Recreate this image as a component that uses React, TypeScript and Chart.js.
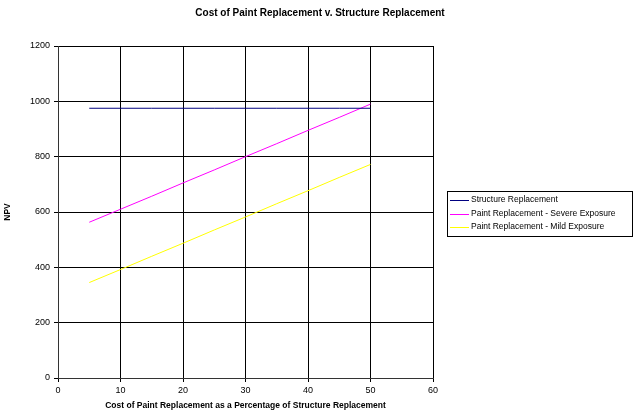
import React, { useEffect, useRef } from "react";
import { Chart, registerables } from "chart.js";

Chart.register(...registerables);

const xValues = [5, 10, 15, 20, 25, 30, 35, 40, 45, 50];
const structureValues = [975, 975, 975, 975, 975, 975, 975, 975, 975, 975];
const severeValues = [563, 610, 657, 705, 752, 800, 847, 895, 942, 990];
const mildValues = [345, 392, 440, 487, 535, 582, 630, 677, 725, 772];
const seriesNames = [
  "Structure Replacement",
  "Paint Replacement - Severe Exposure",
  "Paint Replacement - Mild Exposure",
];
const seriesColors = ["#000080", "#FF00FF", "#FFFF00"];
const chartTitle = "Cost of Paint Replacement v. Structure Replacement";
const xTitle = "Cost of Paint Replacement as a Percentage of Structure Replacement";
const yTitle = "NPV";

const FONT = "Arial, 'Liberation Sans', sans-serif";

export default function App() {
  const ref = useRef<HTMLCanvasElement>(null);
  useEffect(() => {
    document.body.style.margin = "0";
    document.body.style.overflow = "hidden";
    const canvas = ref.current!;
    const toPts = (arr: number[]) => arr.map((y, i) => ({ x: xValues[i], y }));
    const textPlugin = {
      id: "texts",
      afterDraw(chart: any) {
        const ctx = chart.ctx as CanvasRenderingContext2D;
        const ca = chart.chartArea;
        ctx.save();
        ctx.fillStyle = "#000";
        ctx.textBaseline = "middle";
        ctx.textAlign = "center";
        ctx.font = `bold 10px ${FONT}`;
        ctx.fillText(chartTitle, 320, 13);
        ctx.font = `bold 8.5px ${FONT}`;
        ctx.fillText(xTitle, (ca.left + ca.right) / 2, 406);
        ctx.save();
        ctx.translate(8, (ca.top + ca.bottom) / 2);
        ctx.rotate(-Math.PI / 2);
        ctx.fillText(yTitle, 0, 0);
        ctx.restore();
        // legend
        const lx = 447, ly = 191, lw = 185, lh = 45;
        ctx.fillStyle = "#fff";
        ctx.fillRect(lx, ly, lw, lh);
        ctx.strokeStyle = "#000";
        ctx.lineWidth = 1;
        ctx.strokeRect(lx + 0.5, ly + 0.5, lw, lh);
        ctx.font = `8.5px ${FONT}`;
        ctx.textAlign = "left";
        seriesNames.forEach((name, i) => {
          const y = ly + 9 + i * 13.5;
          ctx.strokeStyle = seriesColors[i];
          ctx.beginPath();
          ctx.moveTo(lx + 3, Math.round(y) + 0.5);
          ctx.lineTo(lx + 22, Math.round(y) + 0.5);
          ctx.stroke();
          ctx.fillStyle = "#000";
          ctx.fillText(name, lx + 24, y);
        });
        ctx.restore();
      },
    };
    const chart = new Chart(canvas, {
      type: "line",
      data: {
        datasets: [structureValues, severeValues, mildValues].map((vals, i) => ({
          label: seriesNames[i],
          data: toPts(vals),
          borderColor: seriesColors[i],
          backgroundColor: seriesColors[i],
          borderWidth: 1,
          pointRadius: 0,
          fill: false,
          tension: 0,
        })),
      },
      options: {
        responsive: false,
        animation: false,
        layout: { padding: { top: 46, right: 200, left: 0, bottom: 0 } },
        plugins: { legend: { display: false }, title: { display: false }, tooltip: { enabled: false } },
        scales: {
          x: {
            type: "linear",
            min: 0,
            max: 60,
            ticks: { stepSize: 10, color: "#000", font: { family: FONT, size: 9 }, padding: 3, maxRotation: 0, callback: (v: any) => String(v) },
            grid: { color: "#000", lineWidth: 1, tickLength: 4, tickColor: "#000" },
            border: { color: "#333", width: 1 },
            afterFit: (s: any) => { s.height = 33; },
          },
          y: {
            min: 0,
            max: 1200,
            ticks: { stepSize: 200, color: "#000", font: { family: FONT, size: 9 }, padding: 4, callback: (v: any) => String(v) },
            grid: { color: "#000", lineWidth: 1, tickLength: 4, tickColor: "#000" },
            border: { color: "#333", width: 1 },
            afterFit: (s: any) => { s.width = 58; },
          },
        },
      },
      plugins: [textPlugin],
    });
    return () => chart.destroy();
  }, []);
  return <canvas ref={ref} width={633} height={411} style={{ display: "block" }} />;
}
